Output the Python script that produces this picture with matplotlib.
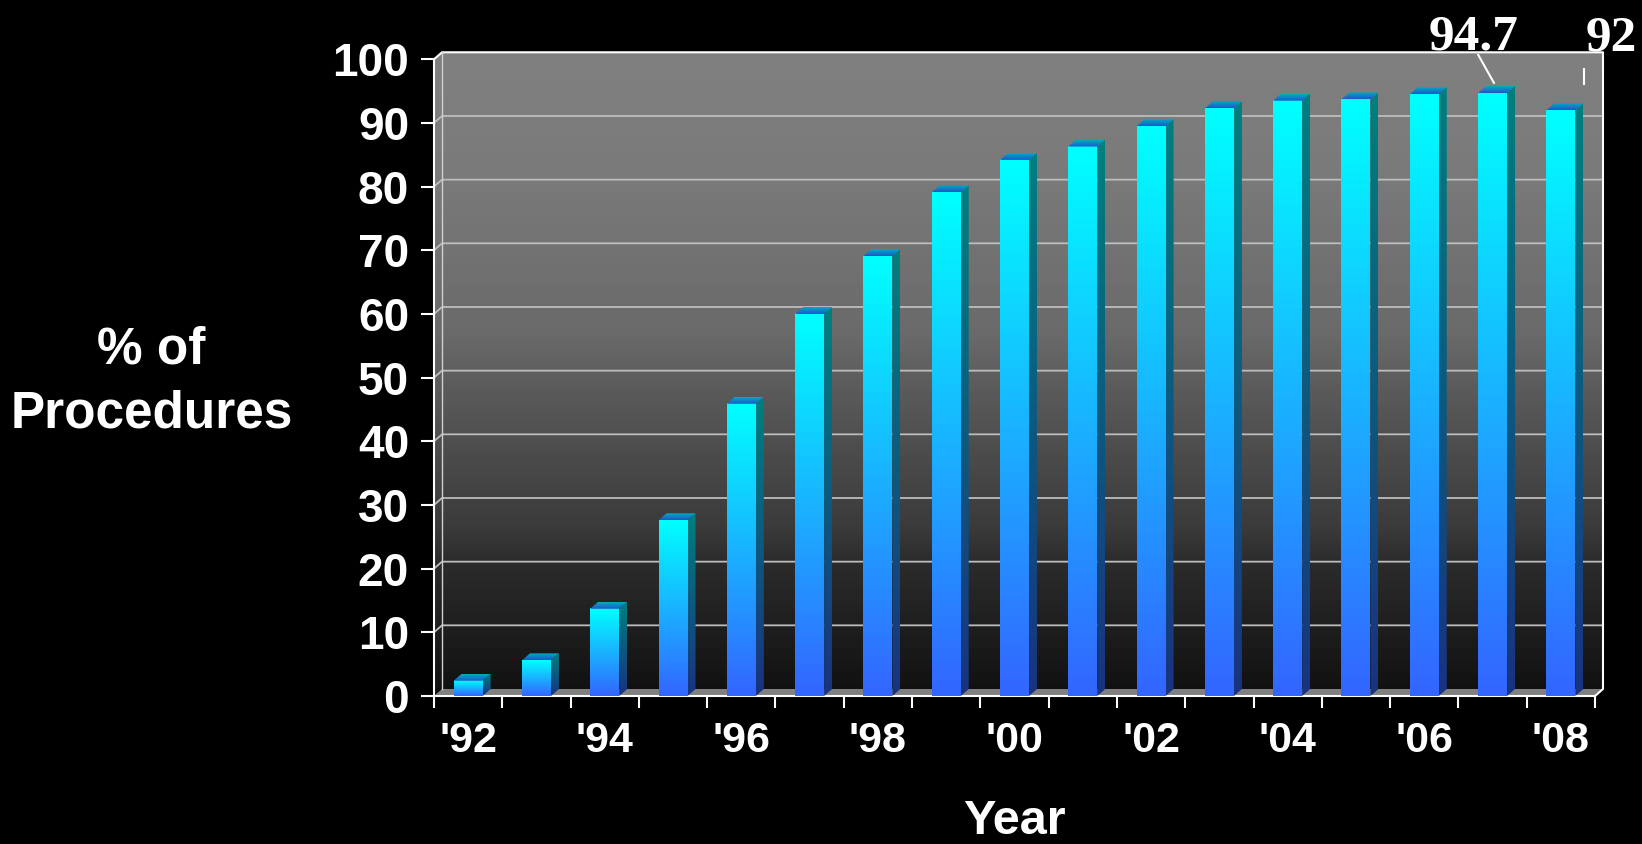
import numpy as np
import matplotlib.pyplot as plt
from matplotlib.patches import Polygon

# data
years = ["'92", "'93", "'94", "'95", "'96", "'97", "'98", "'99", "'00",
         "'01", "'02", "'03", "'04", "'05", "'06", "'07", "'08"]
pct = [2.4, 5.6, 13.7, 27.6, 45.9, 60.0, 69.1, 79.1, 84.2,
       86.3, 89.5, 92.3, 93.5, 93.7, 94.5, 94.7, 92.0]
yticks = [0, 10, 20, 30, 40, 50, 60, 70, 80, 90, 100]
callouts = {15: "94.7", 16: "92"}

W, H = 1642, 844
sans = "Liberation Sans"
serif = "Liberation Serif"

# layout in pixels (front plane of the pseudo-3d box)
x_left, x_right = 434, 1595
y_zero, y_top = 696, 59.3
n = len(years)
px_cat = (x_right - x_left) / n
px_unit = (y_zero - y_top) / 100.0
dx = 8 / px_cat          # depth offset in category units
dy = 7 / px_unit         # depth offset in percent units
bar_w = 29 / px_cat

fig = plt.figure(figsize=(W / 100, H / 100), dpi=100, facecolor="black")
ax_w = x_right - x_left + 8
ax_h = y_zero - y_top + 7
ax = fig.add_axes([x_left / W, 1 - y_zero / H, ax_w / W, ax_h / H])
ax.set_facecolor("black")
ax.set_autoscale_on(False)
x0, x1 = -0.5, n - 0.5
ax.set_xlim(x0, x1 + dx)
ax.set_ylim(0, 100 + dy)


def grad_fill(poly, ext, c_bot, c_top, z):
    t = np.linspace(0, 1, 80)[:, None]
    img = (1 - t) * np.array(c_bot) + t * np.array(c_top)
    im = ax.imshow(img[:, None, :], extent=ext, origin="lower", aspect="auto",
                   interpolation="bilinear", zorder=z)
    if poly is not None:
        clip = Polygon(poly, closed=True, transform=ax.transData)
        im.set_clip_path(clip)
    return im


# back + left wall, gray fading to black
lv = np.linspace(0, 100 + dy, 120)
gray = np.interp(lv, [0, 1, 21, 26, 49, 57, 82, 101.1],
                 [14, 18, 44, 58, 92, 106, 122, 128]) / 255.0
wall = np.stack([gray, gray, gray], axis=1)[:, None, :]
im = ax.imshow(wall, extent=(x0, x1 + dx, 0, 100 + dy), origin="lower",
               aspect="auto", interpolation="bilinear", zorder=0)
im.set_clip_path(Polygon([(x0, 0), (x0, 100), (x0 + dx, 100 + dy), (x1 + dx, 100 + dy),
                          (x1 + dx, dy), (x1, 0)], closed=True, transform=ax.transData))

# gridlines on the walls
for v in yticks[1:-1]:
    ax.plot([x0, x0 + dx, x1 + dx], [v, v + dy, v + dy], color="#bdbdbd", lw=1.3, zorder=1)

# floor
ax.add_patch(Polygon([(x0, 0), (x0 + dx, dy), (x1 + dx, dy), (x1, 0)], closed=True,
                     facecolor="#808080", edgecolor="none", zorder=1.5))

# box edges
edge = dict(color="white", lw=1.5, clip_on=False, zorder=2)
ax.plot([x0, x0 + dx, x1 + dx, x1 + dx, x1], [100, 100 + dy, 100 + dy, dy, 0], **edge)
ax.plot([x0 + dx, x0 + dx], [dy, 100 + dy], color="#d0d0d0", lw=1, zorder=2)

# bars
for i, v in enumerate(pct):
    l, r = i - bar_w / 2, i + bar_w / 2
    grad_fill(None, (l, r, 0, v), (0.2, 0.4, 1.0), (0.0, 1.0, 1.0), 3)
    side = [(r, 0), (r + dx, dy), (r + dx, v + dy), (r, v)]
    grad_fill(side, (r, r + dx, 0, v + dy), (0.1, 0.2, 0.5), (0.0, 0.5, 0.5), 3)
    top = [(l, v), (r, v), (r + dx, v + dy), (l + dx, v + dy)]
    grad_fill(top, (l, r + dx, v, v + dy), (0.13, 0.33, 0.8), (0.0, 0.68, 0.75), 3)

# axes, ticks and labels
for s in ["top", "right"]:
    ax.spines[s].set_visible(False)
ax.spines["left"].set_bounds(0, 100)
ax.spines["bottom"].set_bounds(x0, x1)
for s in ["left", "bottom"]:
    ax.spines[s].set_color("white")
    ax.spines[s].set_linewidth(1.5)
    ax.spines[s].set_zorder(2.5)

ax.set_yticks(yticks)
ax.set_yticklabels([str(v) for v in yticks], fontsize=33, fontweight="bold",
                   family=sans, color="white")
ax.tick_params(axis="y", length=9.4, width=1.5, color="white", pad=8.6)

ax.set_xticks(range(0, n, 2))
ax.set_xticklabels(years[::2], fontsize=31, fontweight="bold", family=sans, color="white")
ax.set_xticks(np.arange(n + 1) - 0.5, minor=True)
ax.tick_params(axis="x", which="major", length=0, pad=18)
ax.tick_params(axis="x", which="minor", length=8.6, width=1.5, color="white")

fig.text(151.5 / W, 1 - 363 / H, "% of", fontsize=37, fontweight="bold", family=sans,
         color="white", ha="center", va="baseline")
fig.text(151.5 / W, 1 - 427 / H, "Procedures", fontsize=37, fontweight="bold", family=sans,
         color="white", ha="center", va="baseline")
fig.text((x_left + x_right) / 2 / W, 1 - 834 / H, "Year", fontsize=35, fontweight="bold",
         family=sans, color="white", ha="center", va="baseline")

# value callouts with leader lines
i = 15
ax.annotate(callouts[i], xy=(i + 0.02, pct[i] + 1.6), xytext=(-14.4, 23.8),
            textcoords="offset points", ha="center", va="baseline", fontsize=37,
            fontweight="bold", family=serif, color="white", annotation_clip=False)
ax.plot([i - 0.21, i + 0.02], [pct[i] + 6.0, pct[i] + 1.6], color="white", lw=1.5,
        clip_on=False, zorder=4)
i = 16
ax.annotate(callouts[i], xy=(i + 0.34, pct[i] + 4.1), xytext=(19.4, 24.5),
            textcoords="offset points", ha="center", va="baseline", fontsize=37,
            fontweight="bold", family=serif, color="white", annotation_clip=False)
ax.plot([i + 0.34, i + 0.34], [pct[i] + 4.1, pct[i] + 6.5], color="white", lw=1.5,
        clip_on=False, zorder=4)

fig.savefig("out.png", dpi=100, facecolor="black")
